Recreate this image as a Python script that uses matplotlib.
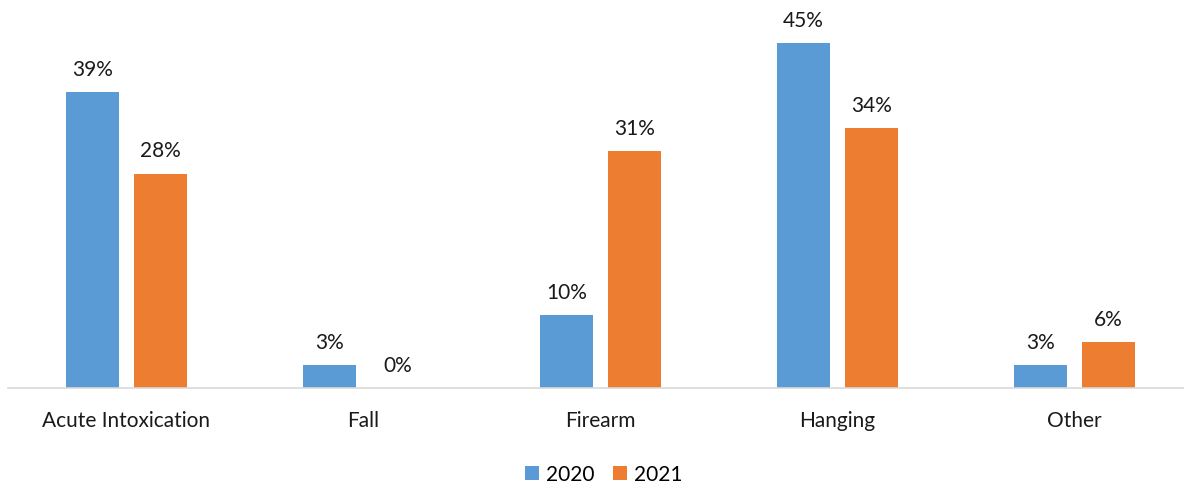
import matplotlib
matplotlib.use("Agg")
import matplotlib.pyplot as plt
import numpy as np

categories = ["Acute Intoxication", "Fall", "Firearm", "Hanging", "Other"]
years = ["2020", "2021"]
values_2020 = [38.6, 3, 9.5, 45, 3]
values_2021 = [28, 0, 31, 34, 6]

colors = ["#5B9BD5", "#ED7D31"]
plt.rcParams["font.family"] = ["Lato", "DejaVu Sans"]

W, H = 1184, 485
fig = plt.figure(figsize=(W / 100, H / 100), dpi=100)
# axes placed in pixel terms: baseline at y=389, group width 237 px
left, right = 8, 8 + 237 * 5
bottom, top = 389, 6
ax = fig.add_axes([left / W, (H - bottom) / H, (right - left) / W, (bottom - top) / H])

x = np.arange(len(categories))
width = 0.224
offset = 0.1435
fs = 15
for vals, off, col, lab in [(values_2020, -offset, colors[0], years[0]),
                            (values_2021, offset, colors[1], years[1])]:
    bars = ax.bar(x + off, vals, width, color=col, label=lab)
    for b, v in zip(bars, vals):
        ax.text(b.get_x() + b.get_width() / 2, v + 1.7, f"{v:.0f}%",
                ha="center", va="bottom", fontsize=fs, color="#1a1a1a")

ax.set_xlim(-0.5, len(categories) - 0.5)
ax.set_ylim(0, 50)
ax.set_yticks([])
ax.set_xticks(x)
ax.set_xticklabels(categories, fontsize=fs, color="#1a1a1a")
ax.tick_params(axis="x", length=0, pad=16)
for s in ["top", "right", "left"]:
    ax.spines[s].set_visible(False)
ax.spines["bottom"].set_color("#D9D9D9")
ax.spines["bottom"].set_linewidth(1.2)

fig.legend(loc="center", bbox_to_anchor=(604 / W, 1 - 475 / H), ncol=2,
           frameon=False, fontsize=fs, handlelength=0.65, handleheight=0.65,
           handletextpad=0.35, columnspacing=0.9)

fig.savefig("out.png", dpi=100)
